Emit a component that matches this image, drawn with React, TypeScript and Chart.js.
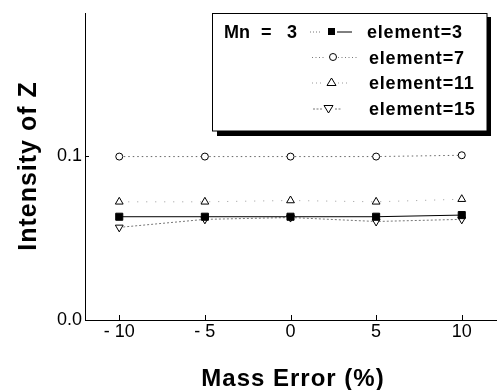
import React, { useEffect, useRef } from "react";
import { Chart, registerables } from "chart.js";

Chart.register(...registerables);

const massError = [-10, -5, 0, 5, 10];
const element3 = [0.063, 0.063, 0.063, 0.063, 0.064];
const element7 = [0.0997, 0.0997, 0.0997, 0.0997, 0.1005];
const element11 = [0.0721, 0.0721, 0.0729, 0.0721, 0.0737];
const element15 = [0.0565, 0.0614, 0.0625, 0.0601, 0.0614];

const xTickValues = [-10, -5, 0, 5, 10];
const xTickLabels = ["- 10", "- 5", "0", "5", "10"];
const yTickValues = [0, 0.1];
const yTickLabels = ["0.0", "0.1"];
const legendLabels = ["element=3", "element=7", "element=11", "element=15"];
const legendHeader = ["Mn", "=", "3"];
const xTitle = "Mass Error (%)";
const yTitle = "Intensity of Z";

const FONT = "'Liberation Sans', Arial, sans-serif";

function labelFor(values: number[], labels: string[], v: number) {
  for (let i = 0; i < values.length; i++) {
    if (Math.abs(values[i] - v) < 1e-9) return labels[i];
  }
  return "";
}

function drawMarker(ctx: CanvasRenderingContext2D, kind: string, x: number, y: number) {
  ctx.save();
  ctx.lineWidth = 1;
  ctx.strokeStyle = "#000";
  ctx.setLineDash([]);
  if (kind === "rect") {
    ctx.fillStyle = "#000";
    ctx.fillRect(x - 3.5, y - 3.5, 7, 7);
  } else if (kind === "circle") {
    ctx.fillStyle = "#fff";
    ctx.beginPath();
    ctx.arc(x, y, 3.5, 0, Math.PI * 2);
    ctx.fill();
    ctx.stroke();
  } else if (kind === "up") {
    ctx.fillStyle = "#fff";
    ctx.beginPath();
    ctx.moveTo(x, y - 4.5);
    ctx.lineTo(x + 4.5, y + 3);
    ctx.lineTo(x - 4.5, y + 3);
    ctx.closePath();
    ctx.fill();
    ctx.stroke();
  } else {
    ctx.fillStyle = "#fff";
    ctx.beginPath();
    ctx.moveTo(x, y + 4.5);
    ctx.lineTo(x + 4.5, y - 3);
    ctx.lineTo(x - 4.5, y - 3);
    ctx.closePath();
    ctx.fill();
    ctx.stroke();
  }
  ctx.restore();
}

function seg(ctx: CanvasRenderingContext2D, x1: number, x2: number, y: number, dash: number[], color: string) {
  ctx.save();
  ctx.strokeStyle = color;
  ctx.lineWidth = 1;
  ctx.setLineDash(dash);
  ctx.beginPath();
  ctx.moveTo(x1, y);
  ctx.lineTo(x2, y);
  ctx.stroke();
  ctx.restore();
}

const decorPlugin = {
  id: "decor",
  afterDraw(chart: any) {
    const ctx: CanvasRenderingContext2D = chart.ctx;
    const xs = chart.scales.x;
    const ys = chart.scales.y;
    const area = chart.chartArea;

    // inner tick marks
    ctx.save();
    ctx.strokeStyle = "#000";
    ctx.lineWidth = 1;
    ctx.beginPath();
    for (const v of xTickValues) {
      const px = Math.round(xs.getPixelForValue(v)) + 0.5;
      ctx.moveTo(px, area.bottom);
      ctx.lineTo(px, area.bottom - 5);
    }
    for (const v of yTickValues) {
      const py = Math.round(ys.getPixelForValue(v)) + 0.5;
      ctx.moveTo(area.left, py);
      ctx.lineTo(area.left + 4, py);
    }
    ctx.stroke();
    ctx.restore();

    // axis titles
    ctx.save();
    ctx.fillStyle = "#000";
    (ctx as any).letterSpacing = "1px";
    ctx.font = `bold 24px ${FONT}`;
    ctx.textAlign = "center";
    ctx.textBaseline = "alphabetic";
    ctx.fillText(xTitle, 293, 386);
    ctx.translate(36, 166);
    ctx.rotate(-Math.PI / 2);
    ctx.font = `bold 25px ${FONT}`;
    ctx.fillText(yTitle, 0, 0);
    ctx.restore();

    // legend box
    ctx.save();
    ctx.fillStyle = "#000";
    ctx.fillRect(217, 17, 274, 119);
    ctx.fillStyle = "#fff";
    ctx.fillRect(212.5, 13.5, 274.5, 117.5);
    ctx.strokeStyle = "#000";
    ctx.lineWidth = 1;
    ctx.strokeRect(212.5, 13.5, 274.5, 117.5);
    ctx.restore();

    const rows = [31.5, 57, 82.5, 108.5];
    ctx.save();
    ctx.fillStyle = "#000";
    ctx.font = `bold 18px ${FONT}`;
    ctx.textBaseline = "alphabetic";
    ctx.textAlign = "left";
    ctx.fillText(legendHeader[0], 224, rows[0] + 6.5);
    ctx.fillText(legendHeader[1], 261, rows[0] + 6.5);
    ctx.fillText(legendHeader[2], 287, rows[0] + 6.5);
    (ctx as any).letterSpacing = "0.8px";
    ctx.fillText(legendLabels[0], 367, rows[0] + 6.5);
    ctx.fillText(legendLabels[1], 369, rows[1] + 6.5);
    ctx.fillText(legendLabels[2], 369, rows[2] + 6.5);
    ctx.fillText(legendLabels[3], 369, rows[3] + 6.5);
    ctx.restore();

    seg(ctx, 310, 322, rows[0] + 0.5, [1, 2], "#777");
    seg(ctx, 337, 352, rows[0] + 0.5, [], "#000");
    drawMarker(ctx, "rect", 331.5, rows[0]);

    seg(ctx, 312, 326, rows[1] + 0.5, [1, 2.5], "#777");
    seg(ctx, 338, 357, rows[1] + 0.5, [1, 2.5], "#777");
    drawMarker(ctx, "circle", 333, rows[1]);

    seg(ctx, 312, 321, rows[2] + 0.5, [1, 3], "#999");
    seg(ctx, 338, 347, rows[2] + 0.5, [1, 3], "#999");
    drawMarker(ctx, "up", 331.5, rows[2]);

    seg(ctx, 313, 323, rows[3] + 0.5, [2, 1.5], "#777");
    seg(ctx, 335, 342, rows[3] + 0.5, [2, 1.5], "#777");
    drawMarker(ctx, "down", 328.5, rows[3]);
  },
};

export default function App() {
  const ref = useRef<HTMLCanvasElement | null>(null);

  useEffect(() => {
    if (!ref.current) return;
    const toPts = (ys: number[]) => massError.map((x, i) => ({ x, y: ys[i] }));
    const chart = new Chart(ref.current, {
      type: "line",
      data: {
        datasets: [
          {
            label: legendLabels[0],
            data: toPts(element3),
            borderColor: "#000",
            borderWidth: 1,
            pointStyle: "rect",
            pointRadius: 5,
            pointBackgroundColor: "#000",
            pointBorderColor: "#000",
            pointBorderWidth: 1,
          },
          {
            label: legendLabels[1],
            data: toPts(element7),
            borderColor: "#666",
            borderWidth: 1,
            borderDash: [1.5, 3],
            pointStyle: "circle",
            pointRadius: 3.5,
            pointBackgroundColor: "#fff",
            pointBorderColor: "#000",
            pointBorderWidth: 1,
          },
          {
            label: legendLabels[2],
            data: toPts(element11),
            borderColor: "#999",
            borderWidth: 1,
            borderDash: [1, 8],
            pointStyle: "triangle",
            pointRadius: 4.5,
            pointBackgroundColor: "#fff",
            pointBorderColor: "#000",
            pointBorderWidth: 1,
          },
          {
            label: legendLabels[3],
            data: toPts(element15),
            borderColor: "#777",
            borderWidth: 1,
            borderDash: [2, 2],
            pointStyle: "triangle",
            pointRotation: 180,
            pointRadius: 4.5,
            pointBackgroundColor: "#fff",
            pointBorderColor: "#000",
            pointBorderWidth: 1,
          },
        ],
      },
      options: {
        animation: false,
        responsive: false,
        maintainAspectRatio: false,
        layout: { padding: { left: 0, top: 9, right: 1, bottom: 0 } },
        plugins: {
          legend: { display: false },
          tooltip: { enabled: false },
        },
        scales: {
          x: {
            type: "linear",
            min: -12,
            max: 12,
            afterBuildTicks: (s: any) => {
              s.ticks = xTickValues.map((v) => ({ value: v }));
            },
            afterFit: (s: any) => {
              s.height = 70;
            },
            ticks: {
              autoSkip: false,
              maxRotation: 0,
              padding: 1,
              color: "#000",
              font: { family: FONT, size: 18 },
              callback: (v: any) => labelFor(xTickValues, xTickLabels, Number(v)),
            },
            grid: { display: true, drawOnChartArea: false, drawTicks: false },
            border: { display: true, color: "#000", width: 1 },
          },
          y: {
            type: "linear",
            min: 0,
            max: 0.1868,
            afterBuildTicks: (s: any) => {
              s.ticks = yTickValues.map((v) => ({ value: v }));
            },
            afterFit: (s: any) => {
              s.width = 85;
            },
            ticks: {
              autoSkip: false,
              padding: 3,
              color: "#000",
              font: { family: FONT, size: 18 },
              callback: (v: any) => labelFor(yTickValues, yTickLabels, Number(v)),
            },
            grid: { display: true, drawOnChartArea: false, drawTicks: false },
            border: { display: true, color: "#000", width: 1 },
          },
        },
      },
      plugins: [decorPlugin],
    } as any);
    return () => chart.destroy();
  }, []);

  return (
    <div style={{ position: "fixed", left: 0, top: 0, width: 502, height: 390, background: "#fff" }}>
      <canvas ref={ref} width={502} height={390} style={{ width: 502, height: 390, display: "block" }} />
    </div>
  );
}
